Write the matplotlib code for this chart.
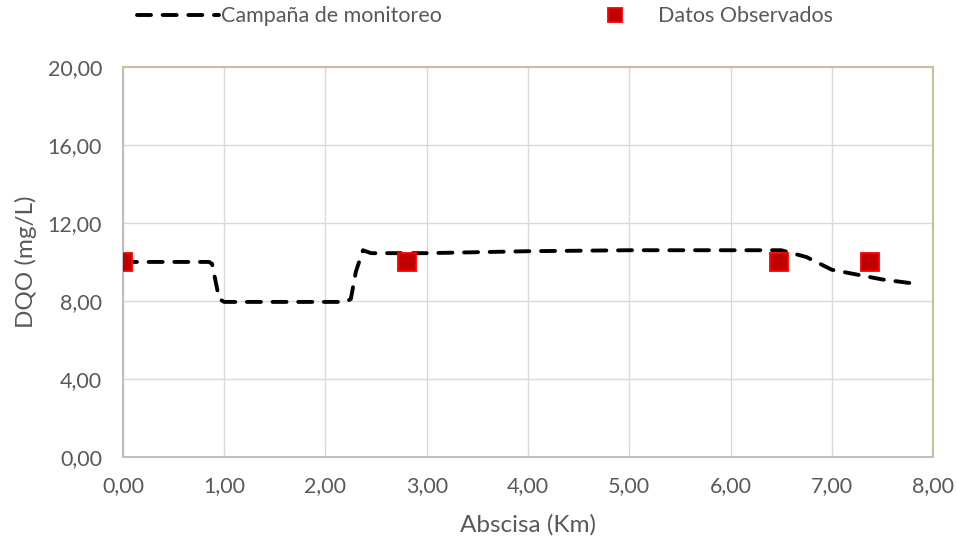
import matplotlib
matplotlib.use("Agg")
import matplotlib.pyplot as plt
from matplotlib.ticker import FuncFormatter, MultipleLocator

plt.rcParams['font.family'] = ['Lato', 'DejaVu Sans']

# Campaña de monitoreo (línea discontinua)
campana_x = [0.0, 0.85, 0.88, 0.95, 1.0, 2.2, 2.25, 2.3, 2.37, 2.45,
             3.0, 4.0, 5.0, 6.0, 6.5, 6.75, 7.0, 7.25, 7.5, 7.8]
campana_y = [10.0, 10.0, 9.9, 8.1, 7.95, 7.95, 8.1, 9.5, 10.6, 10.45,
             10.45, 10.55, 10.6, 10.6, 10.6, 10.25, 9.6, 9.35, 9.1, 8.9]

# Datos observados
obs_x = [0.0, 2.8, 6.48, 7.38]
obs_y = [10.0, 10.0, 10.0, 10.0]

GRIS_TEXTO = '#595959'

fig = plt.figure(figsize=(9.57, 5.44), dpi=100)
ax = fig.add_axes([0.1285, 0.16, 0.8465, 0.717])

linea, = ax.plot(campana_x, campana_y, color='black', linewidth=2.8,
                 linestyle=(0, (3.6, 3.0)), dash_capstyle='round',
                 label='Campaña de monitoreo', zorder=3)
puntos, = ax.plot(obs_x, obs_y, linestyle='none', marker='s', markersize=13.5,
                  markerfacecolor='#C00000', markeredgecolor='#FF0000',
                  markeredgewidth=1.3, label='Datos Observados', zorder=4)

ax.set_xlim(0, 8)
ax.set_ylim(0, 20)
ax.xaxis.set_major_locator(MultipleLocator(1))
ax.yaxis.set_major_locator(MultipleLocator(4))
fmt = FuncFormatter(lambda v, p: f"{v:.2f}".replace('.', ','))
ax.xaxis.set_major_formatter(fmt)
ax.yaxis.set_major_formatter(fmt)

ax.grid(True, color='#D9D9D9', linewidth=1.0, zorder=0)
ax.set_axisbelow(True)
ax.tick_params(length=0, labelsize=15.5, colors=GRIS_TEXTO)
ax.tick_params(axis='x', pad=14)
ax.tick_params(axis='y', pad=15)

ax.spines['left'].set_color('#BFBFBF')
ax.spines['bottom'].set_color('#BFBFBF')
ax.spines['top'].set_color('#C9BF99')
ax.spines['right'].set_color('#C9BF99')
for s in ax.spines.values():
    s.set_linewidth(1.5)

ax.set_xlabel('Abscisa (Km)', fontsize=17.5, color=GRIS_TEXTO, labelpad=13)
ax.set_ylabel('DQO (mg/L)', fontsize=17.5, color=GRIS_TEXTO, labelpad=8)

# dos leyendas separadas, como en la referencia
leg1 = fig.legend([linea], ['Campaña de monitoreo'], loc='center left',
                  bbox_to_anchor=(137 / 957, 0.97), frameon=False,
                  fontsize=15.5, handlelength=3.8, handletextpad=0.1,
                  borderpad=0, borderaxespad=0)
leg2 = fig.legend([puntos], ['Datos Observados'], loc='center left',
                  bbox_to_anchor=(593 / 957, 0.97), frameon=False,
                  fontsize=15.5, handlelength=2.0, handletextpad=1.0,
                  borderpad=0, borderaxespad=0, markerscale=0.75)
for leg in (leg1, leg2):
    for t in leg.get_texts():
        t.set_color(GRIS_TEXTO)

fig.savefig('out.png', dpi=100)
